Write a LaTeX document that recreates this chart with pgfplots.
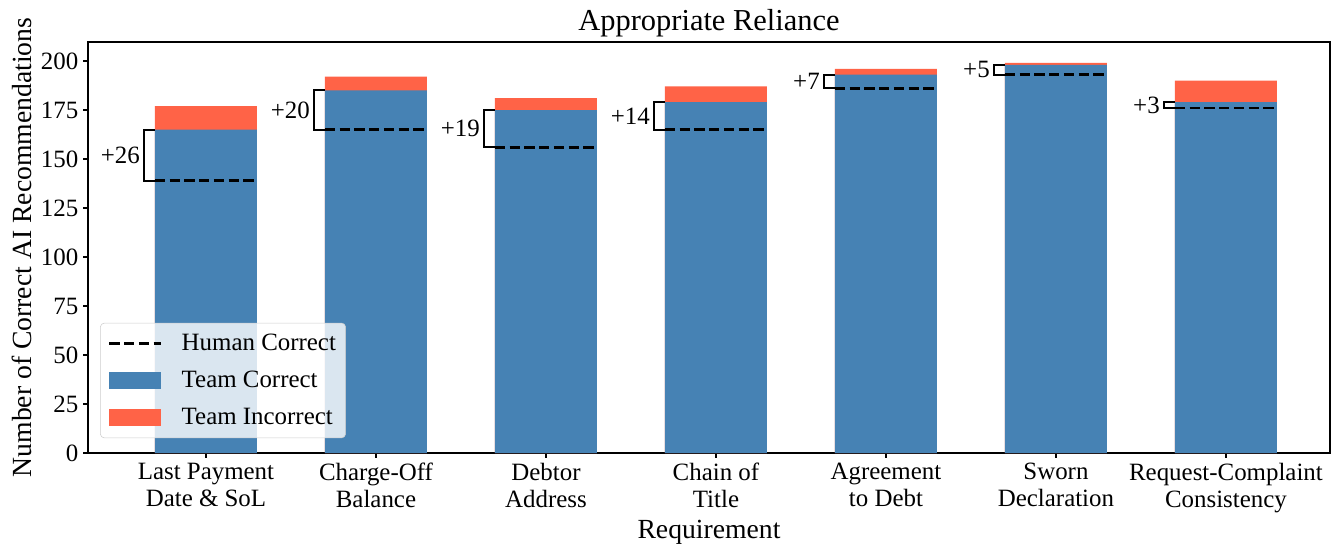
\documentclass[border=0pt]{standalone}
\usepackage{fontspec}
\setmainfont{Liberation Serif}
\usepackage{pgfplots}
\pgfplotsset{compat=1.18}
\definecolor{teamblue}{HTML}{4682B4}
\definecolor{teamred}{HTML}{FF6347}
\pgfplotsset{
    lineleg/.style={legend image code/.code={
        \path[draw=none, fill=none] (-1.6bp,0bp) -- (50bp,0bp);
        \draw[##1, sharp corners] (0bp,0bp) -- (37bp,0bp);}},
    barleg/.style={legend image code/.code={
        \path[draw=none, fill=none] (-1.6bp,0bp) -- (50bp,0bp);
        \fill[##1, sharp corners, fill opacity=1] (0bp,-6.2bp) rectangle (37bp,6.2bp);}},
}

\begin{document}
\begin{tikzpicture}
\begin{axis}[
    scale only axis, width=894.24bp, height=295.92bp,
    xmin=-0.694, xmax=6.612, ymin=0, ymax=209.7,
    xtick={0,...,6},
    xticklabels={{Last Payment\\Date \& SoL},{Charge-Off\\Balance},{Debtor\\Address},{Chain of\\Title},{Agreement\\to Debt},{Sworn\\Declaration},{Request-Complaint\\Consistency}},
    ytick={0,25,...,200},
    tick align=outside, tick pos=left, major tick length=3.5bp,
    major tick style={black, line width=0.8bp},
    axis line style={line width=0.8bp},
    /pgf/number format/assume math mode=true,
    tick label style={font=\fontsize{18}{19.5}\selectfont},
    xticklabel style={align=center},
    label style={font=\fontsize{20}{24}\selectfont},
    xlabel style={yshift=1.5bp},
    title style={font=\fontsize{22}{26}\selectfont, yshift=-6bp},
    title={Appropriate Reliance},
    xlabel={Requirement},
    ylabel={Number of Correct AI Recommendations},
    unbounded coords=jump,
    legend style={at={(0.0097,0.036)}, anchor=south west, draw=black!20, fill=white,
        fill opacity=0.8, text opacity=1, rounded corners=3bp,
        font=\fontsize{18}{20}\selectfont, row sep=9.4bp, inner xsep=5bp, inner ysep=6bp},
    legend cell align=left,
]
% legend entries in the reference's order
\addlegendimage{black, line width=2bp, dash pattern=on 7.4bp off 3.2bp, lineleg}
\addlegendentry{Human Correct}
\addlegendimage{fill=teamblue, draw=none, barleg}
\addlegendentry{Team Correct}
\addlegendimage{fill=teamred, draw=none, barleg}
\addlegendentry{Team Incorrect}

% team total (correct + incorrect)
\addplot[ybar, bar width=0.6, bar shift=0, fill=teamred, draw=none, forget plot]
    coordinates {(0,177) (1,192) (2,181) (3,187) (4,196) (5,199) (6,190)};
% team correct
\addplot[ybar, bar width=0.6, bar shift=0, fill=teamblue, draw=none, forget plot]
    coordinates {(0,165) (1,185) (2,175) (3,179) (4,193) (5,198) (6,179)};
% human correct
\addplot[black, line width=2bp, dash pattern=on 7.4bp off 3.2bp, forget plot]
    coordinates {
        (-0.3,139) (0.3,139) (nan,nan)
        (0.7,165) (1.3,165) (nan,nan)
        (1.7,156) (2.3,156) (nan,nan)
        (2.7,165) (3.3,165) (nan,nan)
        (3.7,186) (4.3,186) (nan,nan)
        (4.7,193) (5.3,193) (nan,nan)
        (5.7,176) (6.3,176)
    };
% brackets from human to team correct
\addplot[black, line width=1.5bp, forget plot]
    coordinates {
        (-0.3,139) (-0.363,139) (-0.363,165) (-0.3,165) (nan,nan)
        (0.7,165) (0.637,165) (0.637,185) (0.7,185) (nan,nan)
        (1.7,156) (1.637,156) (1.637,175) (1.7,175) (nan,nan)
        (2.7,165) (2.637,165) (2.637,179) (2.7,179) (nan,nan)
        (3.7,186) (3.637,186) (3.637,193) (3.7,193) (nan,nan)
        (4.7,193) (4.637,193) (4.637,198) (4.7,198) (nan,nan)
        (5.7,176) (5.637,176) (5.637,179) (5.7,179)
    };
\begin{scope}[every node/.style={anchor=east, inner sep=1bp, font=\fontsize{18}{20}\selectfont}]
\node at (axis cs:-0.38,152) {+26};
\node at (axis cs:0.62,175) {+20};
\node at (axis cs:1.62,165.5) {+19};
\node at (axis cs:2.62,172) {+14};
\node at (axis cs:3.62,189.5) {+7};
\node at (axis cs:4.62,195.5) {+5};
\node at (axis cs:5.62,177.5) {+3};
\end{scope}
\end{axis}
\pgfresetboundingbox
\useasboundingbox (-63.36bp,-66.96bp) rectangle (896.4bp,326.16bp);
\end{tikzpicture}
\end{document}
